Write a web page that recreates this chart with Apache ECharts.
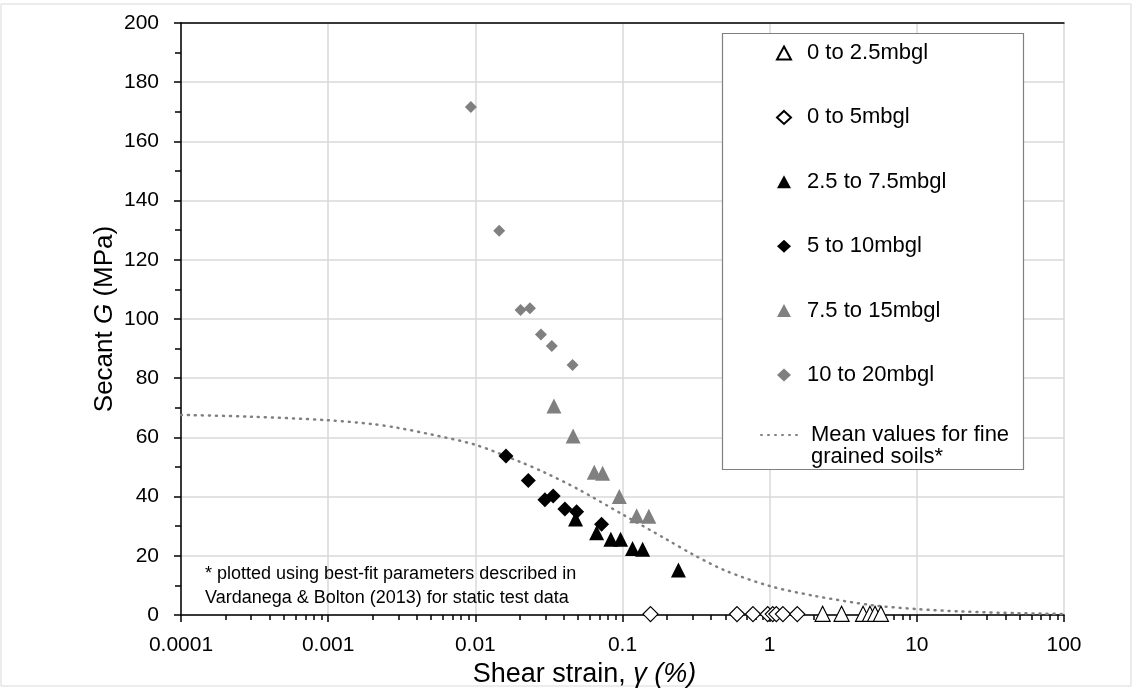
<!DOCTYPE html>
<html>
<head>
<meta charset="utf-8">
<script src="https://cdn.jsdelivr.net/npm/echarts@6/dist/echarts.min.js"></script>
<style>
html,body{margin:0;padding:0;background:#fff;}
#chart{width:1133px;height:688px;}
</style>
</head>
<body>
<div id="chart"></div>
<script>
// ---- data ----
var seriesNames = ['0 to 2.5mbgl', '0 to 5mbgl', '2.5 to 7.5mbgl', '5 to 10mbgl', '7.5 to 15mbgl', '10 to 20mbgl', 'Mean values for fine\ngrained soils*'];

var d0to2_5_x = [2.29, 3.08, 4.31, 4.8, 5.2, 5.7];
var d0to2_5_y = [0.4, 0.4, 0.4, 0.4, 0.4, 0.4];

var d0to5_x = [0.155, 0.60, 0.77, 0.97, 1.05, 1.11, 1.23, 1.54];
var d0to5_y = [0.3, 0.3, 0.3, 0.3, 0.3, 0.3, 0.3, 0.3];

var d2_5to7_5_x = [0.048, 0.0667, 0.0834, 0.097, 0.117, 0.137, 0.240];
var d2_5to7_5_y = [32.4, 27.8, 25.6, 25.6, 22.5, 22.2, 15.2];

var d5to10_x = [0.01615, 0.0229, 0.0297, 0.0338, 0.0406, 0.0488, 0.0721];
var d5to10_y = [53.7, 45.4, 38.9, 40.2, 35.8, 34.9, 30.7];

var d7_5to15_x = [0.0342, 0.0462, 0.0643, 0.0733, 0.0951, 0.1248, 0.151];
var d7_5to15_y = [70.6, 60.5, 48.2, 47.9, 40.0, 33.5, 33.4];

var d10to20_x = [0.00933, 0.01452, 0.0203, 0.0235, 0.0279, 0.0331, 0.0458];
var d10to20_y = [171.6, 129.8, 103.0, 103.6, 94.8, 90.9, 84.5];

var mean_x = [0.0001, 0.0003, 0.001, 0.002, 0.003, 0.005, 0.01, 0.02, 0.03, 0.05, 0.1, 0.2, 0.3, 0.5, 1, 2, 5, 10, 20, 50, 100];
var mean_y = [67.6, 67.0, 65.8, 64.5, 63.2, 61.0, 57.5, 51.8, 48.0, 42.5, 34.0, 25.5, 20.5, 15.0, 9.8, 6.5, 3.3, 2.0, 1.2, 0.6, 0.35];

var xTickLabels = ['0.0001', '0.001', '0.01', '0.1', '1', '10', '100'];
var xDecades = [0.0001, 0.001, 0.01, 0.1, 1, 10];
var xMinorMultipliers = [2, 3, 4, 5, 6, 7, 8, 9];
var yMin = 0, yMax = 200, yInterval = 20;
var footnote = '* plotted using best-fit parameters described in\nVardanega & Bolton (2013) for static test data';

var xMinorTicks = [];
xDecades.forEach(function (d) {
  xMinorMultipliers.forEach(function (m) { xMinorTicks.push(+(d * m).toPrecision(3)); });
});
function pairs(xs, ys) { return xs.map(function (x, i) { return [x, ys[i]]; }); }

var FONT = 'Liberation Sans, Arial, sans-serif';
var GREY = '#808080';

var chart = echarts.init(document.getElementById('chart'), null, {renderer: 'canvas'});
var option = {
  backgroundColor: '#fff',
  animation: false,
  textStyle: {fontFamily: FONT, color: '#000'},
  grid: {left: 181, right: 69, top: 23, bottom: 73, containLabel: false, outerBoundsMode: 'none'},
  xAxis: [
    {
      type: 'log', logBase: 10, min: 0.0001, max: 100,
      name: '{n|Shear strain, }{i|γ (%)}',
      nameLocation: 'middle', nameGap: 43,
      nameTextStyle: {padding: [0, 76, 0, 0], rich: {n: {fontSize: 27, fontFamily: FONT, color: '#000'}, i: {fontSize: 27, fontFamily: FONT, fontStyle: 'italic', color: '#000'}}},
      axisLine: {show: true, onZero: false, lineStyle: {color: '#000', width: 1.5}},
      axisTick: {show: true, inside: false, length: 7, lineStyle: {color: '#000', width: 1.5}},
      axisLabel: {fontSize: 21, color: '#000', fontFamily: FONT, margin: 20,
        formatter: function (v) { var i = Math.round(Math.log10(v) + 4); return xTickLabels[i] || ''; }},
      splitLine: {show: true, lineStyle: {color: '#d9d9d9', width: 1.5}},
      minorTick: {show: false}
    },
    {
      type: 'log', logBase: 10, min: 0.0001, max: 100, position: 'bottom',
      axisLine: {show: false},
      axisTick: {show: true, inside: false, length: 5, customValues: xMinorTicks, lineStyle: {color: '#000', width: 1.5}},
      axisLabel: {show: false},
      splitLine: {show: false}
    },
    {
      type: 'log', logBase: 10, min: 0.0001, max: 100, position: 'top',
      axisLine: {show: true, onZero: false, lineStyle: {color: '#000', width: 1.5}},
      axisTick: {show: false}, axisLabel: {show: false}, splitLine: {show: false}
    }
  ],
  yAxis: {
    type: 'value', min: yMin, max: yMax, interval: yInterval,
    name: '{n|Secant }{i|G}{n| (MPa)}',
    nameLocation: 'middle', nameGap: 63, nameMoveOverlap: false,
    nameTextStyle: {rich: {n: {fontSize: 26, fontFamily: FONT, color: '#000'}, i: {fontSize: 26, fontFamily: FONT, fontStyle: 'italic', color: '#000'}}},
    axisLine: {show: true, onZero: false, lineStyle: {color: '#000', width: 1.5}},
    axisTick: {show: true, inside: false, length: 7, lineStyle: {color: '#000', width: 1.5}},
    minorTick: {show: true, splitNumber: 2, length: 6, lineStyle: {color: '#000', width: 1.5}},
    axisLabel: {fontSize: 21, color: '#000', fontFamily: FONT, margin: 22},
    splitLine: {show: true, lineStyle: {color: '#d9d9d9', width: 1.5}}
  },
  legend: [
    {
      show: true, orient: 'vertical', left: 776, top: 41, padding: 0,
      itemGap: 40.4, itemWidth: 14, itemHeight: 13,
      textStyle: {fontSize: 22, fontFamily: FONT, color: '#000', lineHeight: 24, padding: [0, 0, 0, 11]},
      data: seriesNames.slice(0, 6)
    },
    {
      show: true, orient: 'vertical', left: 760, top: 402, padding: 0,
      itemWidth: 40, itemHeight: 12,
      formatter: function (name) { return '\n' + name; },
      textStyle: {fontSize: 22, fontFamily: FONT, color: '#000', lineHeight: 22, padding: [0, 0, 0, 5]},
      data: [{name: seriesNames[6], itemStyle: {color: 'rgba(0,0,0,0)', borderWidth: 0, opacity: 0}}]
    }
  ],
  graphic: [
    {type: 'rect', silent: true, z: -10, shape: {x: 1, y: 4, width: 1130, height: 682}, style: {fill: 'none', stroke: '#d9d9d9', lineWidth: 1}},
    {type: 'rect', silent: true, z: 50, shape: {x: 722.5, y: 33.5, width: 301, height: 436}, style: {fill: 'none', stroke: GREY, lineWidth: 1.2}},
    {type: 'rect', silent: true, z: 2, shape: {x: 723, y: 34, width: 300, height: 435}, style: {fill: '#fff'}},
    {type: 'text', left: 205, top: 562, z: 10, style: {text: footnote, font: '18px ' + FONT, fill: '#000', lineHeight: 24}}
  ],
  series: [
    {name: seriesNames[6], type: 'line', xAxisIndex: 0, data: pairs(mean_x, mean_y), smooth: 0.3, symbol: 'none', showSymbol: false, z: 1,
      lineStyle: {color: GREY, width: 2.5, type: [1, 6], cap: 'round'}, itemStyle: {color: GREY}},
    {name: seriesNames[0], type: 'scatter', data: pairs(d0to2_5_x, d0to2_5_y), symbol: 'triangle', symbolSize: 15, z: 3,
      itemStyle: {color: '#fff', borderColor: '#000', borderWidth: 1.2, opacity: 1}},
    {name: seriesNames[1], type: 'scatter', data: pairs(d0to5_x, d0to5_y), symbol: 'diamond', symbolSize: 15, z: 3,
      itemStyle: {color: '#fff', borderColor: '#000', borderWidth: 1.2, opacity: 1}},
    {name: seriesNames[2], type: 'scatter', data: pairs(d2_5to7_5_x, d2_5to7_5_y), symbol: 'triangle', symbolSize: 15, z: 3,
      itemStyle: {color: '#000', opacity: 1}},
    {name: seriesNames[3], type: 'scatter', data: pairs(d5to10_x, d5to10_y), symbol: 'diamond', symbolSize: 15, z: 3,
      itemStyle: {color: '#000', opacity: 1}},
    {name: seriesNames[4], type: 'scatter', data: pairs(d7_5to15_x, d7_5to15_y), symbol: 'triangle', symbolSize: 15, z: 3,
      itemStyle: {color: GREY, opacity: 1}},
    {name: seriesNames[5], type: 'scatter', data: pairs(d10to20_x, d10to20_y), symbol: 'diamond', symbolSize: 12, z: 3,
      itemStyle: {color: GREY, opacity: 1}}
  ]
};
chart.setOption(option);
</script>
</body>
</html>
